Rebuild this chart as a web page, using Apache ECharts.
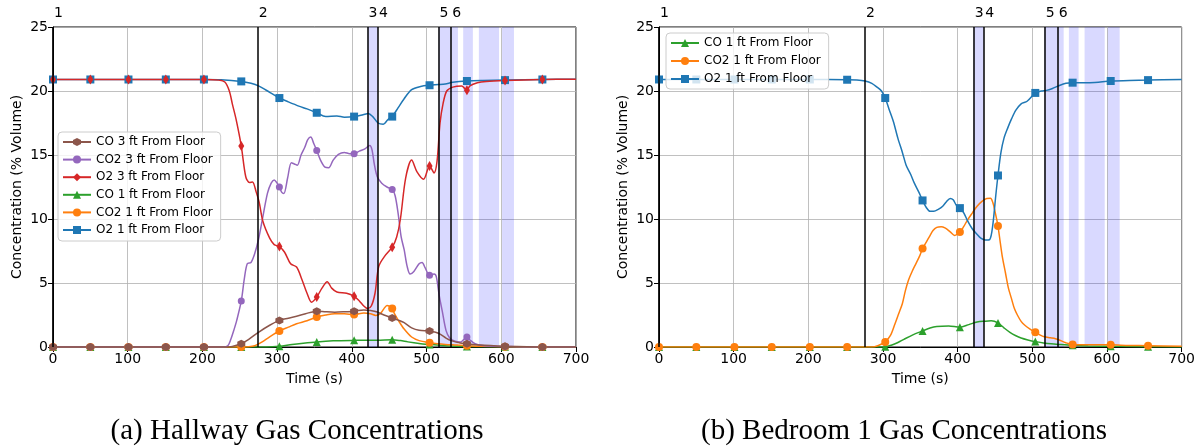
<!DOCTYPE html>
<html><head><meta charset="utf-8">
<script src="https://cdn.jsdelivr.net/npm/echarts@6/dist/echarts.min.js"></script>
<style>html,body{margin:0;padding:0;background:#fff}#c{width:1198px;height:446px}</style>
</head><body><div id="c"></div>
<script>
// ---- data ----
const markT = [0,50,101,151,202,252,303,353,403,454,504,554,605,655];
const xTicks = [0,100,200,300,400,500,600,700];
const yTicks = [0,5,10,15,20,25];
const eventT = [0,274,421,435,516,533];
const bedEvents = [0,276,421.7,435.5,516.5,534];
const eventLabels = ['1','2','3','4','5','6'];
const shadeBands = [[421,435],[516,542],[549,562],[570,597],[601,617]];
const captions = ['(a) Hallway Gas Concentrations','(b) Bedroom 1 Gas Concentrations'];
const names = ['CO 3 ft From Floor','CO2 3 ft From Floor','O2 3 ft From Floor','CO 1 ft From Floor','CO2 1 ft From Floor','O2 1 ft From Floor'];

// Hallway
const hallO2_1 = [[0,20.9],[50,20.9],[101,20.9],[151,20.9],[202,20.9],[225,20.88],[252,20.75],[265,20.6],[275,20.4],[290,19.9],[303,19.45],[315,19.15],[330,18.8],[340,18.6],[353,18.3],[365,18.0],[380,18.05],[390,17.95],[403,18.0],[415,18.15],[422,18.25],[428,18.0],[435,17.5],[442,17.4],[448,17.75],[454,18.0],[462,18.7],[470,19.4],[480,20.1],[492,20.35],[504,20.45],[516,20.5],[525,20.55],[535,20.68],[554,20.78],[575,20.82],[605,20.85],[655,20.9],[700,20.92]];
const hallO2_3 = [[0,20.9],[50,20.9],[101,20.9],[151,20.9],[202,20.9],[222,20.85],[230,20.7],[236,20.0],[240,19.0],[245,17.8],[252,15.7],[258,13.3],[263,12.85],[267,12.9],[272,12.1],[276,11.3],[281,9.8],[290,8.5],[296,8.0],[303,7.85],[310,7.4],[318,6.5],[326,6.25],[333,5.3],[340,4.2],[346,3.5],[353,3.9],[360,4.6],[367,5.1],[373,4.6],[380,4.3],[393,4.2],[403,3.96],[410,3.6],[416,3.2],[421,3.0],[426,3.2],[431,4.2],[436,6.3],[444,7.1],[454,7.8],[460,8.6],[465,10.0],[472,13.2],[480,14.6],[487,13.7],[496,13.1],[504,14.15],[510,13.6],[514,14.5],[518,17.5],[522,19.0],[527,20.0],[535,20.3],[547,20.4],[551,20.2],[554,20.05],[558,20.4],[568,20.65],[580,20.75],[605,20.82],[655,20.9],[700,20.92]];
const hallCO2_3 = [[0,0],[50,0],[101,0],[151,0],[202,0],[228,0],[234,0.1],[238,0.6],[242,1.3],[246,2.1],[252,3.6],[256,5.3],[260,6.5],[265,6.6],[270,7.3],[275,8.4],[280,9.9],[287,12.0],[292,12.8],[296,13.05],[300,12.8],[303,12.5],[306,12.1],[309,12.0],[314,13.2],[319,14.4],[323,14.3],[327,14.2],[332,15.0],[337,15.6],[341,16.2],[345,16.4],[349,15.9],[353,15.35],[358,14.6],[364,14.05],[369,14.0],[375,14.6],[382,15.05],[390,15.2],[397,15.1],[403,15.1],[410,15.3],[418,15.5],[424,15.75],[427,15.4],[430,14.3],[434,13.3],[440,12.8],[447,12.5],[454,12.3],[458,11.8],[462,10.4],[466,8.6],[470,7.6],[474,6.3],[478,5.7],[483,5.9],[490,6.5],[494,6.6],[498,6.2],[504,5.6],[510,5.7],[513,5.5],[517,4.0],[521,2.8],[526,1.3],[531,0.7],[538,0.45],[546,0.4],[550,0.6],[554,0.78],[558,0.55],[565,0.25],[575,0.12],[590,0.06],[605,0.04],[655,0],[700,0]];
const hallCO_3 = [[0,0],[50,0],[101,0],[151,0],[202,0],[232,0],[240,0.05],[252,0.26],[262,0.6],[275,1.15],[290,1.7],[303,2.08],[315,2.25],[326,2.4],[338,2.6],[353,2.8],[365,2.75],[377,2.72],[390,2.75],[403,2.8],[416,2.9],[425,2.85],[434,2.73],[443,2.5],[454,2.27],[462,2.1],[470,1.9],[480,1.5],[490,1.3],[504,1.25],[512,1.15],[518,1.0],[526,0.7],[533,0.5],[545,0.32],[554,0.26],[570,0.15],[605,0.06],[655,0],[700,0]];
const hallCO2_1 = [[0,0],[50,0],[101,0],[151,0],[202,0],[252,0],[262,0.02],[270,0.1],[280,0.4],[290,0.8],[303,1.25],[315,1.55],[326,1.82],[340,2.05],[353,2.34],[365,2.5],[377,2.6],[390,2.6],[403,2.53],[416,2.66],[425,2.6],[432,2.47],[438,2.6],[443,3.0],[447,3.25],[450,3.2],[454,3.0],[457,2.6],[462,2.1],[470,1.4],[480,0.78],[490,0.5],[504,0.34],[515,0.25],[525,0.2],[540,0.15],[554,0.1],[575,0.05],[605,0.02],[655,0],[700,0]];
const hallCO_1 = [[0,0],[50,0],[101,0],[151,0],[202,0],[252,0],[285,0],[303,0.05],[320,0.2],[335,0.3],[353,0.4],[375,0.48],[403,0.52],[420,0.53],[434,0.52],[454,0.57],[465,0.5],[475,0.4],[490,0.28],[504,0.2],[520,0.12],[540,0.06],[554,0.04],[605,0.01],[655,0],[700,0]];

// Bedroom 1
const bedO2_1 = [[0,20.9],[50,20.9],[101,20.9],[151,20.9],[202,20.9],[252,20.88],[265,20.86],[276,20.78],[285,20.6],[292,20.3],[298,20.0],[303,19.45],[308,18.6],[314,17.6],[320,16.3],[326,15.2],[331,14.2],[337,13.5],[342,12.8],[348,12.1],[353,11.45],[358,10.9],[363,10.6],[368,10.6],[374,10.75],[380,11.0],[385,11.35],[390,11.6],[394,11.5],[398,11.1],[403,10.85],[408,10.5],[413,9.9],[420,9.2],[426,8.8],[431,8.5],[437,8.35],[443,8.4],[447,9.5],[451,11.8],[454,13.4],[458,15.2],[462,16.3],[467,17.1],[472,17.8],[478,18.5],[485,19.0],[493,19.2],[504,19.85],[512,20.0],[519,20.05],[527,20.2],[535,20.4],[545,20.6],[554,20.65],[577,20.65],[605,20.78],[630,20.83],[655,20.85],[700,20.9]];
const bedCO2_1 = [[0,0],[50,0],[101,0],[151,0],[202,0],[252,0],[285,0],[293,0.1],[303,0.4],[310,0.9],[316,1.8],[321,2.6],[326,3.4],[330,4.4],[334,5.2],[339,5.9],[344,6.5],[349,7.1],[353,7.7],[358,8.2],[362,8.6],[367,9.1],[372,9.35],[378,9.4],[383,9.3],[390,9.0],[396,8.72],[403,8.98],[408,9.4],[413,9.9],[420,10.5],[426,11.0],[433,11.4],[439,11.6],[444,11.62],[447,11.3],[450,10.6],[454,9.45],[457,8.2],[460,7.0],[464,5.8],[468,4.6],[472,3.8],[476,3.0],[480,2.5],[485,2.0],[490,1.7],[497,1.4],[504,1.15],[510,0.95],[516,0.8],[524,0.72],[531,0.65],[538,0.5],[544,0.35],[554,0.2],[575,0.18],[605,0.17],[630,0.12],[655,0.1],[700,0.05]];
const bedCO_1 = [[0,0],[50,0],[101,0],[151,0],[202,0],[252,0],[295,0],[303,0.02],[312,0.15],[320,0.35],[328,0.6],[340,0.95],[353,1.25],[363,1.48],[372,1.6],[388,1.64],[403,1.55],[415,1.75],[426,1.95],[437,2.02],[445,2.05],[454,1.88],[462,1.5],[470,1.15],[478,0.88],[485,0.7],[494,0.55],[504,0.42],[515,0.32],[525,0.25],[536,0.2],[554,0.13],[575,0.08],[605,0.05],[655,0.02],[700,0]];

// ---- styles ----
const FONT = 'DejaVu Sans';
const HEX = 'path://M0,-10L8.66,-5L8.66,5L0,10L-8.66,5L-8.66,-5Z';
const THIN_DIAMOND = 'path://M0,-10L6,0L0,10L-6,0Z';
const sty = {
  CO3: {color:'#8c564b', symbol:HEX, size:8},
  CO2_3: {color:'#9467bd', symbol:'circle', size:7},
  O2_3: {color:'#d62728', symbol:THIN_DIAMOND, size:[6,10]},
  CO1: {color:'#2ca02c', symbol:'triangle', size:8},
  CO2_1: {color:'#ff7f0e', symbol:'circle', size:8},
  O2_1: {color:'#1f77b4', symbol:'rect', size:8}
};

function mkSeries(name, pts, s, gi) {
  return {
    type:'line', name, xAxisIndex:gi, yAxisIndex:gi,
    smooth:0.3, showSymbol:true, showAllSymbol:true,
    symbol:s.symbol, symbolSize:s.size,
    lineStyle:{color:s.color, width:1.5},
    itemStyle:{color:s.color, borderWidth:0},
    emphasis:{disabled:true},
    data: pts.map(p => markT.indexOf(p[0]) >= 0 ? {value:p} : {value:p, symbol:'none'})
  };
}
function helper(gi, lines) {
  return {
    type:'line', name:'_h'+gi, xAxisIndex:gi, yAxisIndex:gi, data:[], clip:false, silent:true,
    markArea:{silent:true, itemStyle:{color:'rgba(0,0,255,0.15)'},
      data: shadeBands.map(b => [{xAxis:b[0]},{xAxis:b[1]}])},
    markLine:{silent:true, symbol:['none','none'], animation:false,
      lineStyle:{color:'#000', width:1.5, type:'solid'},
      label:{show:true, position:'end', align:'left', distance:7, fontSize:14, color:'#000', fontFamily:FONT, padding:[0,0,0,1]},
      emphasis:{disabled:true},
      data: lines.map((x,i) => ({xAxis:x, label:{formatter:eventLabels[i]}}))}
  };
}

function xAx(gi){ return {type:'value', gridIndex:gi, min:0, max:700, interval:100, name:'Time (s)', nameLocation:'middle', nameGap:25,
  nameTextStyle:{fontFamily:FONT, fontSize:14, color:'#000'},
  axisLine:{show:true, onZero:false, lineStyle:{color:'#000', width:1}},
  axisTick:{show:true, length:5, lineStyle:{color:'#000'}},
  axisLabel:{fontFamily:FONT, fontSize:14, color:'#000', margin:5},
  splitLine:{show:true, lineStyle:{color:'#b0b0b0', width:0.8}}}; }
function yAx(gi){ return {type:'value', gridIndex:gi, min:0, max:25, interval:5, name:'Concentration (% Volume)', nameLocation:'middle', nameGap:29, nameRotate:90,
  nameTextStyle:{fontFamily:FONT, fontSize:14, color:'#000'},
  axisLine:{show:true, onZero:false, lineStyle:{color:'#000', width:1}},
  axisTick:{show:true, length:5, lineStyle:{color:'#000'}},
  axisLabel:{fontFamily:FONT, fontSize:14, color:'#000', margin:5},
  splitLine:{show:true, lineStyle:{color:'#b0b0b0', width:0.8}}}; }

const legendBase = {orient:'vertical', itemWidth:28, itemHeight:10, backgroundColor:'rgba(255,255,255,0.8)',
  borderColor:'#cccccc', borderWidth:1, borderRadius:4, selectedMode:false,
  textStyle:{fontFamily:FONT, fontSize:12, color:'#000', lineHeight:14}};

const chart = echarts.init(document.getElementById('c'), null, {renderer:'canvas'});
chart.setOption({
  animation:false,
  backgroundColor:'#fff',
  grid:[
    {left:53, top:27, width:523, height:320, show:true, borderColor:'#000', borderWidth:1, backgroundColor:'transparent'},
    {left:659, top:27, width:523, height:320, show:true, borderColor:'#000', borderWidth:1, backgroundColor:'transparent'}
  ],
  xAxis:[xAx(0), xAx(1)],
  yAxis:[yAx(0), yAx(1)],
  legend:[
    Object.assign({}, legendBase, {left:58, top:132, itemGap:3.6, padding:[3,8,4,4], data:names}),
    Object.assign({}, legendBase, {left:666, top:33, itemGap:4, padding:[3,8,3,4], data:names.slice(3)})
  ],
  series:[
    helper(0, eventT),
    mkSeries(names[3], hallCO_1, sty.CO1, 0),
    mkSeries(names[4], hallCO2_1, sty.CO2_1, 0),
    mkSeries(names[5], hallO2_1, sty.O2_1, 0),
    mkSeries(names[1], hallCO2_3, sty.CO2_3, 0),
    mkSeries(names[2], hallO2_3, sty.O2_3, 0),
    mkSeries(names[0], hallCO_3, sty.CO3, 0),
    helper(1, bedEvents),
    mkSeries(names[3], bedCO_1, sty.CO1, 1),
    mkSeries(names[4], bedCO2_1, sty.CO2_1, 1),
    mkSeries(names[5], bedO2_1, sty.O2_1, 1)
  ],
  graphic:[
    {type:'text', x:297, y:431, style:{text:captions[0], font:'29px "Liberation Serif"', fill:'#000', align:'center', verticalAlign:'middle'}},
    {type:'text', x:904, y:431, style:{text:captions[1], font:'29px "Liberation Serif"', fill:'#000', align:'center', verticalAlign:'middle'}}
  ]
});
</script></body></html>
